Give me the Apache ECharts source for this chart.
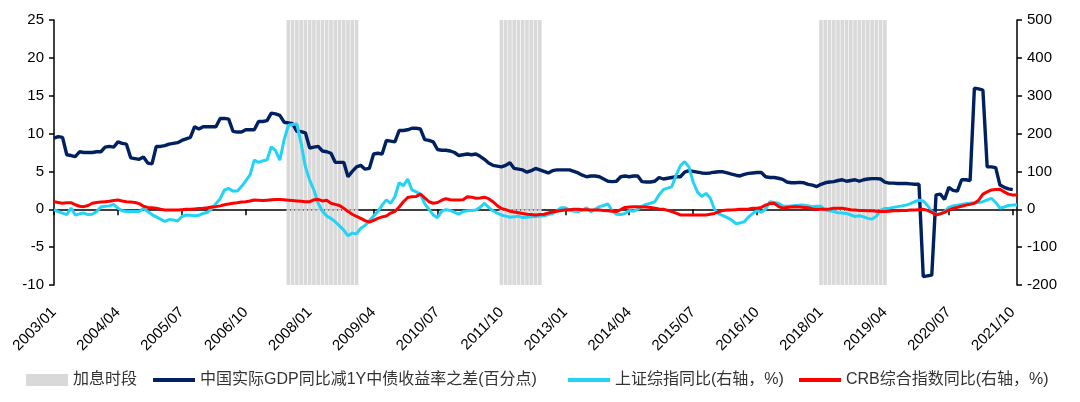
<!DOCTYPE html>
<html><head><meta charset="utf-8">
<script src="https://cdn.jsdelivr.net/npm/echarts@6/dist/echarts.min.js"></script>
<style>html,body{margin:0;padding:0;background:#fff}#c{width:1080px;height:402px}</style>
</head><body><div id="c"></div>
<script>
// Monthly categories 2003/01 .. 2021/11
const startYear = 2003, monthCount = 227;
const categories = [];
for (let i = 0; i < monthCount; i++) {
  const y = startYear + Math.floor(i / 12), m = i % 12 + 1;
  categories.push(y + '/' + (m < 10 ? '0' : '') + m);
}

// 中国实际GDP同比减1Y中债收益率之差(百分点) — left axis
const gdpMinusYield = [
  9.4, 9.6, 9.5, 7.2, 7.1, 6.95, 7.6, 7.5, 7.5, 7.5, 7.6, 7.6,
  8.2, 8.3, 8.2, 8.9, 8.7, 8.6, 6.8, 6.7, 6.6, 6.9, 6.1, 6.0,
  8.3, 8.3, 8.4, 8.6, 8.7, 8.8, 9.1, 9.3, 9.5, 10.9, 10.6, 10.9,
  10.9, 10.9, 10.9, 12.0, 12.0, 11.9, 10.3, 10.2, 10.2, 10.5, 10.5, 10.5,
  11.6, 11.6, 11.7, 12.7, 12.6, 12.4, 11.5, 11.4, 11.3, 10.3, 10.25, 10.1,
  8.1, 8.2, 8.3, 7.7, 7.6, 7.4, 6.2, 6.2, 6.2, 4.3, 5.0, 5.6,
  5.8, 5.3, 5.4, 7.3, 7.4, 7.3, 9.1, 9.0, 8.9, 10.4, 10.4, 10.5,
  10.7, 10.7, 10.6, 9.2, 9.1, 8.9, 7.9, 7.8, 7.8, 7.7, 7.5, 7.1,
  7.2, 7.3, 7.2, 7.3, 7.0, 6.6, 6.1, 5.8, 5.7, 5.6, 5.8, 6.15,
  5.4, 5.3, 5.2, 4.9, 5.1, 5.4, 5.2, 5.0, 4.8, 5.1, 5.2, 5.2,
  5.2, 5.2, 5.0, 4.8, 4.5, 4.3, 4.4, 4.4, 4.3, 4.0, 3.7, 3.65,
  3.7, 4.3, 4.4, 4.3, 4.4, 4.4, 3.65, 3.6, 3.6, 3.7, 4.2, 4.0,
  4.1, 4.2, 4.3, 4.3, 4.9, 5.1, 5.0, 4.9, 4.8, 4.75, 4.8, 4.9,
  4.95, 4.95, 4.8, 4.65, 4.5, 4.4, 4.6, 4.75, 4.8, 4.85, 4.85, 4.3,
  4.2, 4.2, 4.1, 3.95, 3.6, 3.5, 3.5, 3.55, 3.5, 3.3, 3.2, 3.0,
  3.3, 3.5, 3.6, 3.65, 3.8, 3.9, 3.7, 3.8, 3.9, 3.7, 3.9, 4.0,
  4.05, 4.05, 4.0, 3.6, 3.45, 3.45, 3.4, 3.4, 3.4, 3.35, 3.3, 3.3,
  -8.9, -8.8, -8.7, 1.9, 2.0, 1.3, 2.9, 2.5, 2.4, 3.9, 3.9, 3.8,
  16.0, 15.9, 15.75, 5.6, 5.6, 5.5, 3.2, 2.9, 2.7, 2.6, null
];

// 上证综指同比(右轴，%)
const sseYoY = [
  -1, -6, -10, -14, 3, -15, -12, -10, -14, -13, -6, 6,
  8, 9, 13, 3, -4, -6, -6, -6, -6, 2, -6, -14,
  -20, -26, -32, -27, -28, -31, -19, -15, -16, -17, -16, -11,
  -8, 2, 15, 28, 51, 55, 48, 48, 60, 75, 91, 130,
  124, 128, 130, 165, 155, 130, 183, 222, 224, 225, 174, 112,
  77, 51, 16, -5, -18, -24, -33, -44, -55, -70, -63, -65,
  -50, -43, -30, -18, -6, 11, 25, 16, 33, 70, 62, 80,
  51, 46, 40, 15, 0, -15, -22, -5, -1, -3, -8, -13,
  -6, -4, -3, -2, 5, 16, 5, -4, -10, -15, -18, -21,
  -20, -18, -22, -21, -20, -19, -18, -17, -14, -11, -4, 4,
  4, -2, -5, -6, -2, 4, -6, 0, 7, 10, 14, -4,
  -13, -14, -11, -3, -5, 0, 8, 13, 16, 20, 38, 52,
  56, 60, 90, 115, 126, 112, 72, 46, 34, 42, 30, 0,
  -12, -17, -22, -28, -38, -36, -33, -20, -11, -3, -8, 0,
  20, 18, 16, 9, 8, 9, 10, 11, 11, 9, 7, 8,
  8, -2, -4, -6, -9, -10, -11, -15, -19, -17, -20, -24,
  -26, -18, -2, 2, 3, 5, 7, 9, 11, 15, 20, 24,
  22, 10, -6, -14, -12, -6, 5, 9, 11, 13, 15, 16,
  17, 18, 20, 25, 29, 18, 3, 6, 10, 11, 11
];

// CRB综合指数同比(右轴，%)
const crbYoY = [
  20, 18, 16, 17, 17.5, 12, 8, 7, 10, 16, 18, 19,
  20, 21, 23, 24.6, 22, 20, 19, 18, 15, 8, 5, 4,
  2.6, 0, -2, -2, -2, -2, -1, 0, 0, 1, 2, 2.6,
  4, 6, 7, 9, 12, 14, 16, 17, 19, 20, 22, 24.6,
  24, 23, 24, 25, 26, 26, 25, 24, 23, 22, 21, 20,
  20, 25, 26, 22, 24, 16, 13, 10, 3, -6, -13, -19,
  -24, -30, -34, -29, -24, -20, -18, -10, -6, 6, 20, 31,
  33, 34, 40, 30, 20, 16, 18, 24, 28, 25, 24.6, 24.6,
  25, 33, 32, 29, 30, 32, 28, 20, 10, 2, -1, -5,
  -7, -9, -11, -13, -14, -15, -14, -13, -10, -7, -5, -3,
  -2, -1, 0, 0, -1, -1, -2, -2, -2, -3, -4, -5,
  -6, -1, 5, 6, 7, 7, 6, 6, 5, 3, 1, 0,
  -3, -6, -10, -15, -15, -15, -15, -15, -15, -15, -13, -11,
  -7, -3, -2, -2, -1, 0, 0, 1, 2.6, 2.6, 5, 11,
  15, 16, 8, 3, 5, 6, 7, 6, 5, 4, 1, 0,
  0, 0, 1, 2.6, 2.6, 2.6, 1, -1, -2, -3, -3, -4,
  -4, -5, -6, -6, -5, -4, -4, -3, -3, -2, -2, -1,
  0, -3, -8, -15, -12, -8, -2, 2, 5, 8, 11, 13,
  16, 24, 40, 46, 51, 52, 53, 46, 40, 38, 38
];

// 加息时段 (start, end inclusive)
const hikePeriods = [['2007/08', '2008/12'], ['2011/10', '2012/07'], ['2018/01', '2019/04']];
const leftMin = -10, leftMax = 25, leftStep = 5;
const rightMin = -200, rightMax = 500, rightStep = 100;

const inHike = c => hikePeriods.some(p => c >= p[0] && c <= p[1]);
const hikeTop = categories.map(c => inHike(c) ? leftMax : null);
const hikeBottom = categories.map(c => inHike(c) ? leftMin : null);

const nameHike = '加息时段';
const nameGdp = '中国实际GDP同比减1Y中债收益率之差(百分点)';
const nameSse = '上证综指同比(右轴，%)';
const nameCrb = 'CRB综合指数同比(右轴，%)';

const cNavy = '#002060', cCyan = '#22d3f5', cRed = '#ff0000', cGray = '#d9d9d9';
const ff = "'Liberation Sans', Arial, 'Noto Sans CJK SC', sans-serif";
const axisBlack = { color: '#000', width: 1.5 };

const legendBase = (name, left, h) => ({
  data: [name], left: left, top: 367, icon: 'rect', itemWidth: 42, itemHeight: h,
  textStyle: { fontSize: 16, color: '#333', fontFamily: ff }, selectedMode: false
});

const chart = echarts.init(document.getElementById('c'));
chart.setOption({
  animation: false,
  grid: { left: 54, right: 63, top: 20, bottom: 117, containLabel: false },
  legend: [
    legendBase(nameHike, 21, 12),
    legendBase(nameGdp, 148, 4),
    legendBase(nameSse, 563, 4),
    legendBase(nameCrb, 794, 4)
  ],
  xAxis: [{
    type: 'category', data: categories, boundaryGap: false, position: 'bottom',
    axisLine: { show: true, onZero: true, onZeroAxisIndex: 0, lineStyle: axisBlack },
    axisTick: { show: true, interval: 14, length: 6, lineStyle: axisBlack },
    axisLabel: { show: false }, splitLine: { show: false }
  }, {
    type: 'category', data: categories, boundaryGap: false, position: 'bottom',
    axisLine: { show: false }, axisTick: { show: false }, splitLine: { show: false },
    axisLabel: { show: true, interval: 14, rotate: 45, fontSize: 15, color: '#000', margin: 25, fontFamily: ff }
  }],
  yAxis: [{
    type: 'value', min: leftMin, max: leftMax, interval: leftStep, position: 'left',
    axisLine: { show: true, onZero: false, lineStyle: axisBlack },
    axisTick: { show: true, length: 5, lineStyle: axisBlack },
    splitLine: { show: false },
    axisLabel: { fontSize: 15, color: '#000', margin: 10, fontFamily: ff }
  }, {
    type: 'value', min: rightMin, max: rightMax, interval: rightStep, position: 'right',
    axisLine: { show: true, onZero: false, lineStyle: axisBlack },
    axisTick: { show: true, length: 5, lineStyle: axisBlack },
    splitLine: { show: false },
    axisLabel: { fontSize: 15, color: '#000', margin: 10, fontFamily: ff }
  }],
  series: [
    { name: nameHike, type: 'bar', stack: 'hike', xAxisIndex: 0, yAxisIndex: 0, data: hikeTop,
      barCategoryGap: '15%', itemStyle: { color: cGray }, silent: true, z: 1 },
    { name: nameHike, type: 'bar', stack: 'hike', xAxisIndex: 0, yAxisIndex: 0, data: hikeBottom,
      barCategoryGap: '15%', itemStyle: { color: cGray }, silent: true, z: 1 },
    { name: nameGdp, type: 'line', xAxisIndex: 0, yAxisIndex: 0, data: gdpMinusYield, symbol: 'none',
      lineStyle: { color: cNavy, width: 3.4 }, itemStyle: { color: cNavy }, z: 3 },
    { name: nameSse, type: 'line', xAxisIndex: 0, yAxisIndex: 1, data: sseYoY, symbol: 'none',
      lineStyle: { color: cCyan, width: 3 }, itemStyle: { color: cCyan }, z: 4 },
    { name: nameCrb, type: 'line', xAxisIndex: 0, yAxisIndex: 1, data: crbYoY, symbol: 'none',
      lineStyle: { color: cRed, width: 3 }, itemStyle: { color: cRed }, z: 5 }
  ]
});
</script></body></html>
